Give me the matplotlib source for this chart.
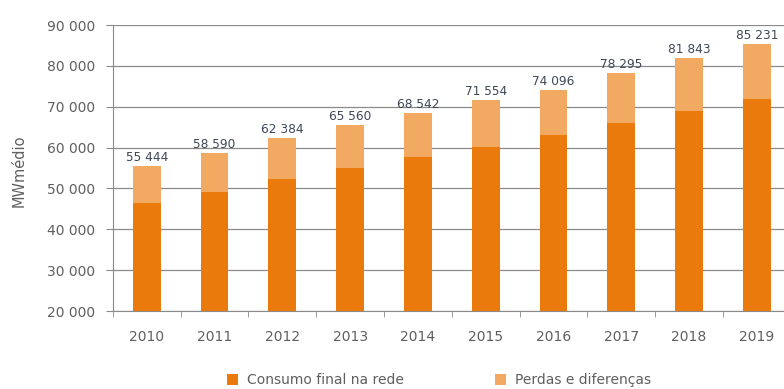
import numpy as np
import matplotlib.pyplot as plt

# dados (MWmédio)
anos = ["2010", "2011", "2012", "2013", "2014", "2015", "2016", "2017", "2018", "2019"]
consumo = [46500, 49200, 52300, 55000, 57800, 60200, 63100, 65900, 69000, 71900]
total = [55444, 58590, 62384, 65560, 68542, 71554, 74096, 78295, 81843, 85231]
perdas = [t - c for t, c in zip(total, consumo)]

cor_consumo = "#ea7a0b"
cor_perdas = "#f2aa62"
cor_texto = "#5f5f5f"

plt.rcParams['font.family'] = ['DejaVu Sans']

fig = plt.figure(figsize=(7.84, 3.89), dpi=100)
ax = fig.add_axes([0.144, 0.2005, 0.856, 0.7352])

x = np.arange(len(anos))
ax.bar(x, consumo, width=0.41, color=cor_consumo, label="Consumo final na rede", zorder=3)
ax.bar(x, perdas, width=0.41, bottom=consumo, color=cor_perdas, label="Perdas e diferenças", zorder=3)

# rótulos com o total de cada ano
for xi, t in zip(x, total):
    txt = f"{t:,}".replace(",", " ")
    ax.text(xi, t + 500, txt, ha="center", va="bottom", fontsize=8.7, color="#3e4756")

ax.set_ylim(20000, 90000)
ax.set_xlim(-0.5, 9.4)
ax.set_yticks(np.arange(20000, 90001, 10000))
ax.set_yticklabels([f"{v:,}".replace(",", " ") for v in range(20000, 90001, 10000)])
ax.yaxis.grid(True, color="#8a8a8a", linewidth=0.9, zorder=0)

ax.set_xticks(x)
ax.set_xticklabels(anos)
ax.set_xticks(np.arange(-0.5, 9.5, 1), minor=True)
ax.tick_params(axis="x", which="major", length=0, pad=14, labelsize=10, colors=cor_texto)
ax.tick_params(axis="x", which="minor", length=4, color="#8a8a8a")
ax.tick_params(axis="y", length=5, color="#8a8a8a", labelsize=10, colors=cor_texto, pad=8)

for s in ["top", "right"]:
    ax.spines[s].set_visible(False)
ax.spines["left"].set_color("#8a8a8a")
ax.spines["bottom"].set_color("#8a8a8a")

fig.text(0.024, 0.56, "MWmédio", rotation=90, ha="center", va="center",
         fontsize=10.5, color=cor_texto)

fig.legend(loc="center", bbox_to_anchor=(0.56, 0.023), ncol=2, frameon=False,
           fontsize=10, handlelength=0.8, handleheight=0.8, handletextpad=0.6,
           columnspacing=6.6, labelcolor=cor_texto)

plt.savefig("out.png", dpi=100)
